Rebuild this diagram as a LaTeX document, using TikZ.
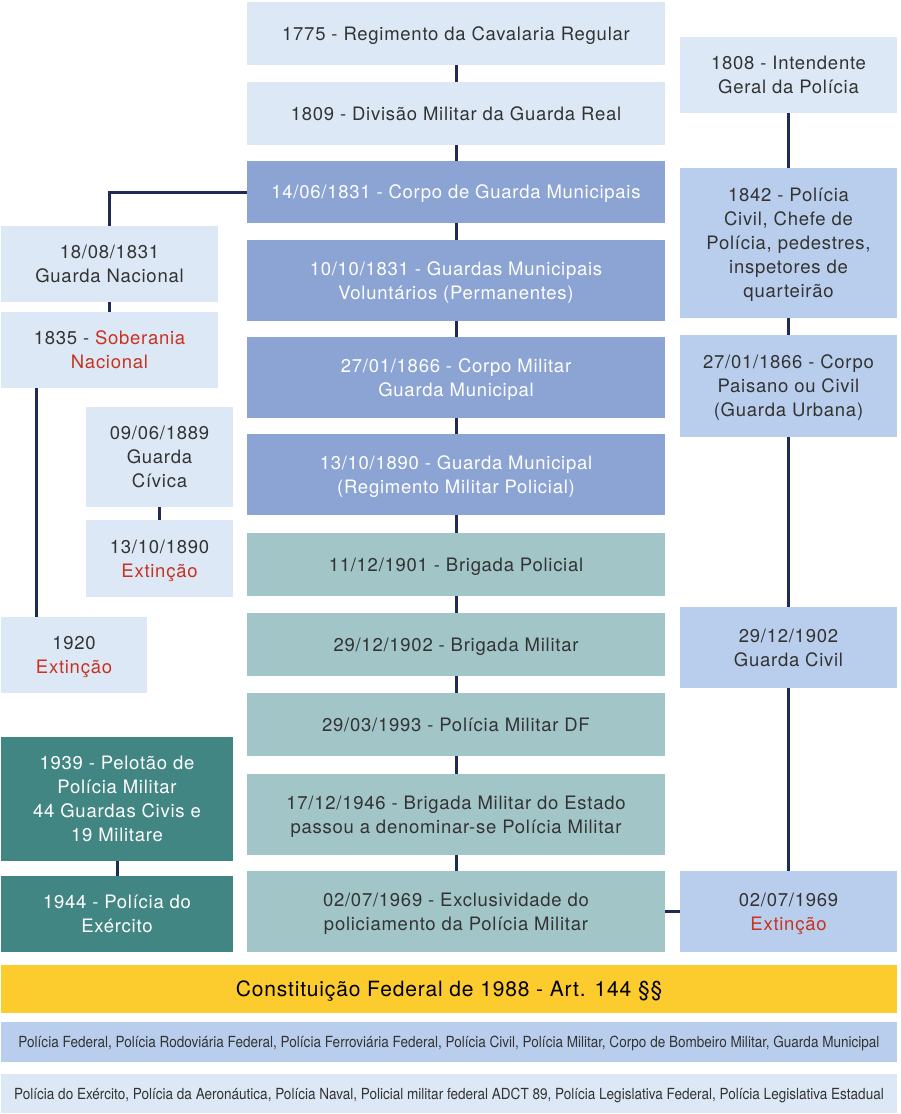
\documentclass[tikz,border=0pt]{standalone}
\usepackage{fontspec}
\setmainfont{TeX Gyre Heros}[LetterSpace=4]
\newfontfamily\narrowfont[FakeStretch=0.885]{TeX Gyre Heros}
\definecolor{pale}{RGB}{220,232,246}
\definecolor{midblue}{RGB}{185,206,236}
\definecolor{deepblue}{RGB}{140,164,212}
\definecolor{lightteal}{RGB}{162,197,200}
\definecolor{darkteal}{RGB}{66,134,132}
\definecolor{gold}{RGB}{252,203,46}
\definecolor{navy}{RGB}{31,42,85}
\definecolor{txt}{RGB}{51,51,51}
\definecolor{ext}{RGB}{200,50,30}
\newcommand{\ext}[1]{\textcolor{ext}{#1}}

\begin{document}
\begin{tikzpicture}[x=1pt, y=-1pt,
    box/.style={inner sep=0pt, align=center, text depth=0pt, text=txt, font=\fontsize{18.5}{24}\selectfont},
    paleb/.style={box, fill=pale},
    midb/.style={box, fill=midblue},
    deepb/.style={box, fill=deepblue, text=white},
    tealb/.style={box, fill=lightteal},
    darkb/.style={box, fill=darkteal, text=white},
    mainb/.style={minimum width=418pt},
    sideb/.style={minimum width=217pt},
    link/.style={draw=navy, line width=3pt}]
      \useasboundingbox (0,0) rectangle (900,1114);
      \node[paleb, mainb, minimum height=63pt] (n1775) at (456,33.5)  {1775 - Regimento da Cavalaria Regular};
      \node[paleb, mainb, minimum height=63pt] (n1809) at (456,113.5) {1809 - Divisão Militar da Guarda Real};
      \node[deepb, mainb, minimum height=62pt] (n1831) at (456,192)   {14/06/1831 - Corpo de Guarda Municipais};
      \node[deepb, mainb, minimum height=81pt] (v1831) at (456,280.5) {10/10/1831 - Guardas Municipais\\Voluntários (Permanentes)};
      \node[deepb, mainb, minimum height=81pt] (n1866) at (456,377.5) {27/01/1866 - Corpo Militar\\Guarda Municipal};
      \node[deepb, mainb, minimum height=81pt] (n1890) at (456,474.5) {13/10/1890 - Guarda Municipal\\(Regimento Militar Policial)};
      \node[tealb, mainb, minimum height=63pt] (n1901) at (456,564.5) {11/12/1901 - Brigada Policial};
      \node[tealb, mainb, minimum height=63pt] (n1902) at (456,644.5) {29/12/1902 - Brigada Militar};
      \node[tealb, mainb, minimum height=63pt] (n1993) at (456,724.5) {29/03/1993 - Polícia Militar DF};
      \node[tealb, mainb, minimum height=81pt] (n1946) at (456,814.5) {17/12/1946 - Brigada Militar do Estado\\passou a denominar-se Polícia Militar};
      \node[tealb, mainb, minimum height=81pt] (n1969) at (456,911.5) {02/07/1969 - Exclusividade do\\policiamento da Polícia Militar};

      \node[paleb, sideb, minimum height=76pt] (g1831) at (109.5,264) {18/08/1831\\Guarda Nacional};
      \node[paleb, sideb, minimum height=76pt] (s1835) at (109.5,350) {1835 - \ext{Soberania}\\\ext{Nacional}};
      \node[paleb, minimum width=147pt, minimum height=100pt] (c1889) at (159.5,457) {09/06/1889\\Guarda\\Cívica};
      \node[paleb, minimum width=147pt, minimum height=77pt] (e1890) at (159.5,558.5) {13/10/1890\\\ext{Extinção}};
      \node[paleb, minimum width=146pt, minimum height=76pt] (e1920) at (74,655) {1920\\\ext{Extinção}};
      \node[darkb, minimum width=232pt, minimum height=124pt] (p1939) at (117,799) {1939 - Pelotão de\\Polícia Militar\\44 Guardas Civis e\\19 Militare};
      \node[darkb, minimum width=232pt, minimum height=76pt] (p1944) at (117,914) {1944 - Polícia do\\Exército};

      \node[paleb, sideb, minimum height=76pt]  (r1808) at (788.5,75)    {1808 - Intendente\\Geral da Polícia};
      \node[midb, sideb, minimum height=150pt]  (r1842) at (788.5,243)   {1842 - Polícia\\Civil, Chefe de\\Polícia, pedestres,\\inspetores de\\quarteirão};
      \node[midb, sideb, minimum height=102pt]  (r1866) at (788.5,386)   {27/01/1866 - Corpo\\Paisano ou Civil\\(Guarda Urbana)};
      \node[midb, sideb, minimum height=81pt]   (r1902) at (788.5,647.5) {29/12/1902\\Guarda Civil};
      \node[midb, sideb, minimum height=81pt]   (r1969) at (788.5,911.5) {02/07/1969\\\ext{Extinção}};

      \node[box, fill=gold, text=black, minimum width=896pt, minimum height=48pt, font=\fontsize{21}{24}\selectfont] (cf88) at (449,989) {Constituição Federal de 1988 - Art. 144 §§};
      \node[box, fill=midblue, minimum width=896pt, minimum height=40pt, font=\narrowfont\fontsize{15.3}{18}\selectfont] (list1) at (449,1042) {Polícia Federal, Polícia Rodoviária Federal, Polícia Ferroviária Federal, Polícia Civil, Polícia Militar, Corpo de Bombeiro Militar, Guarda Municipal};
      \node[box, fill=pale, minimum width=896pt, minimum height=39pt, font=\narrowfont\fontsize{15.3}{18}\selectfont] (list2) at (449,1093.5) {Polícia do Exército, Polícia da Aeronáutica, Polícia Naval, Policial militar federal ADCT 89, Polícia Legislativa Federal, Polícia Legislativa Estadual};

      \draw[link] (n1775) -- (n1809);
      \draw[link] (n1809) -- (n1831);
      \draw[link] (n1831) -- (v1831);
      \draw[link] (v1831) -- (n1866);
      \draw[link] (n1866) -- (n1890);
      \draw[link] (n1890) -- (n1901);
      \draw[link] (n1901) -- (n1902);
      \draw[link] (n1902) -- (n1993);
      \draw[link] (n1993) -- (n1946);
      \draw[link] (n1946) -- (n1969);
      \draw[link] (n1831.west) -| (g1831.north);
      \draw[link] (g1831) -- (s1835);
      \draw[link] ([xshift=36pt]s1835.south west) -- ([xshift=36pt]e1920.north west);
      \draw[link] (c1889) -- (e1890);
      \draw[link] (p1939) -- (p1944);
      \draw[link] (r1808) -- (r1842);
      \draw[link] (r1842) -- (r1866);
      \draw[link] (r1866) -- (r1902);
      \draw[link] (r1902) -- (r1969);
      \draw[link] (n1969) -- (r1969);
    \end{tikzpicture}
\end{document}
